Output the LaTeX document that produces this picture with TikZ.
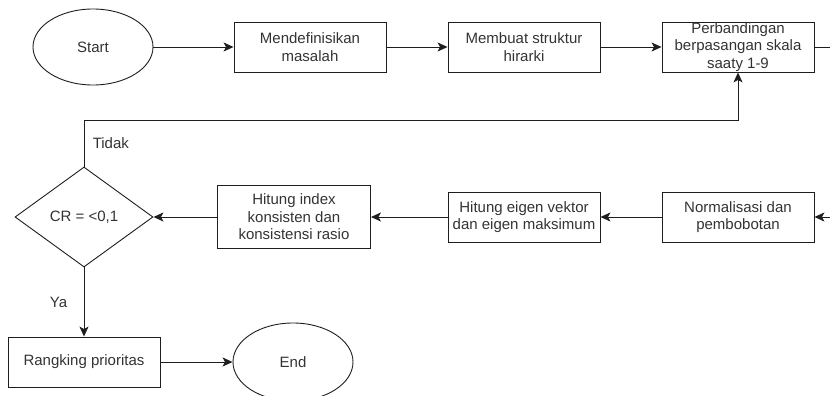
\documentclass[tikz,border=0pt]{standalone}
\usepackage{fontspec}
\setmainfont{Liberation Sans}
\usepackage{color}
\definecolor{mytext}{RGB}{51,51,51}
\definecolor{myline}{RGB}{30,30,30}
\usepackage{tikz}
\usetikzlibrary{shapes.geometric,arrows.meta,positioning}
\tikzstyle{terminal}=[draw,ellipse,minimum width=120pt,minimum height=76pt,inner sep=0pt]
\tikzstyle{process}=[draw,rectangle,minimum width=152pt,minimum height=50pt,inner sep=0pt,align=center]
\tikzstyle{decision}=[draw,diamond,minimum width=138pt,minimum height=100pt,inner sep=0pt,aspect=1.38]

\begin{document}
\begin{tikzpicture}[x=1pt,y=-1pt,line width=0.9pt,draw=myline,text=mytext,
  font=\fontsize{15}{17.5}\selectfont,
  flow/.style={draw,-{Stealth[length=10pt,width=9pt,inset=2.5pt]}}]
\useasboundingbox (0,0) rectangle (830,396);
\draw (93, 47) node [terminal] (start) {Start};
\draw (310, 47) node [process] (masalah) {Mendefinisikan\\masalah};
\draw (524, 47) node [process] (hirarki) {Membuat struktur\\hirarki};
\draw (738, 47) node [process] (saaty) {Perbandingan\\berpasangan skala\\saaty 1-9};
\draw (738, 217) node [process] (normal) {Normalisasi dan\\pembobotan};
\draw (524, 217) node [process] (eigen) {Hitung eigen vektor\\dan eigen maksimum};
\draw (294, 217) node [process, minimum width=153pt, minimum height=63pt] (index) {Hitung index\\konsisten dan\\konsistensi rasio};
\draw (84, 217) node [decision] (cr) {CR = <0,1};
\draw (84, 362) node [process] (rangking) {Rangking prioritas};
\draw (293, 362) node [terminal, minimum height=78pt] (end) {End};
\coordinate (keluar) at (830, 47);
\coordinate (masuk) at (830, 217);
\coordinate (balik) at (738, 120);
\draw[flow] (start) -- (masalah);
\draw[flow] (masalah) -- (hirarki);
\draw[flow] (hirarki) -- (saaty);
\draw (saaty) -- (keluar);
\draw[flow] (masuk) -- (normal);
\draw[flow] (normal) -- (eigen);
\draw[flow] (eigen) -- (index);
\draw[flow] (index) -- (cr);
\draw[flow] (cr.north) |- (balik) node[pos=0.25, right=5pt] (tidak) {Tidak} -- (saaty.south);
\draw[flow] (cr.south) -- (rangking.north) node[midway, left=13pt] (ya) {Ya};
\draw[flow] (rangking) -- (end);
\end{tikzpicture}
\end{document}
